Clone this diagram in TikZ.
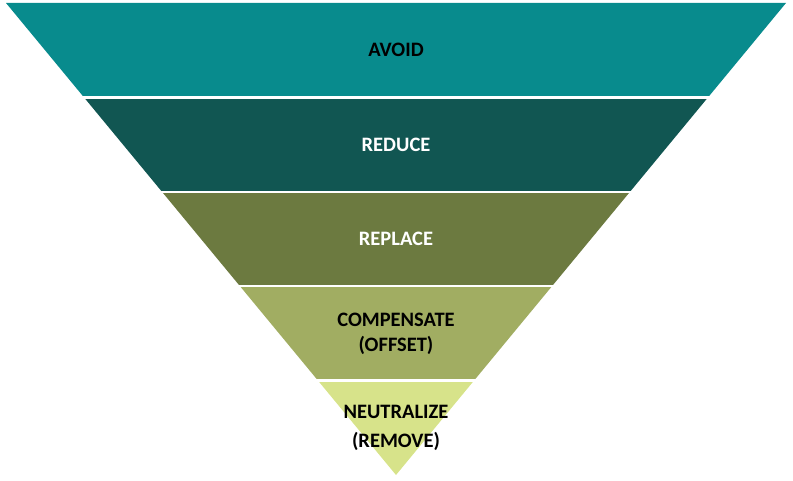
\documentclass[tikz,border=0pt]{standalone}
\usepackage{fontspec}
\setmainfont{Carlito}
\definecolor{avoidteal}{HTML}{088B8D}
\definecolor{reducegreen}{HTML}{115652}
\definecolor{replaceolive}{HTML}{6C7A40}
\definecolor{offsetolive}{HTML}{A1AD62}
\definecolor{neutrallime}{HTML}{D7E38A}
\begin{document}
\begin{tikzpicture}[x=1pt,y=-1pt,every node/.style={font=\bfseries\fontsize{20.5}{25}\selectfont,align=center}]
\useasboundingbox (0,0) rectangle (793,481);
% inverted pyramid: top edge at y=3, apex at (396,475)
\foreach \i/\col/\tcol/\txt in {0/avoidteal/black/AVOID,1/reducegreen/white/REDUCE,2/replaceolive/white/REPLACE,3/offsetolive/black/{COMPENSATE\\(OFFSET)},4/neutrallime/black/{NEUTRALIZE\\[4pt](REMOVE)}} {
  \pgfmathsetmacro\ya{3+94.4*\i}
  \pgfmathsetmacro\yb{3+94.4*(\i+1)}
  \pgfmathsetmacro\ha{0.82627*(475-\ya)}
  \pgfmathsetmacro\hb{0.82627*(475-\yb)}
  \fill[\col] (396-\ha,\ya) -- (396+\ha,\ya) -- (396+\hb,\yb) -- (396-\hb,\yb) -- cycle;
  \node[text=\tcol] (layer\i) at (396,{(\ya+\yb)/2}) {\txt};
}
% white gaps between the layers
\foreach \y in {97.4,191.8,286.2,380.6}
  \draw[white,line width=2.5pt] (0,\y) -- (793,\y);
\end{tikzpicture}
\end{document}
